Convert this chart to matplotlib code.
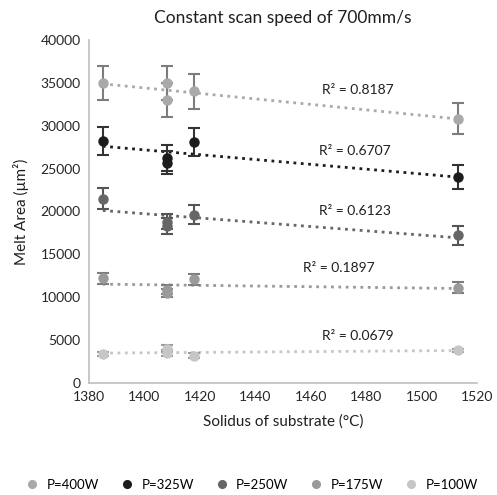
import matplotlib
matplotlib.use("Agg")
import matplotlib.pyplot as plt
import numpy as np

plt.rcParams['font.family'] = ['Lato', 'DejaVu Sans']

# data
labels = ["P=400W", "P=325W", "P=250W", "P=175W", "P=100W"]
colors = ["#a9a9a9", "#1c1c1c", "#666666", "#9a9a9a", "#c6c6c6"]
ecolors = ["#7d7d7d", "#333333", "#555555", "#7d7d7d", "#9a9a9a"]

x400 = [1385, 1408, 1408, 1418, 1513]
y400 = [35000, 35000, 33000, 34000, 30800]
e400 = [2000, 2000, 2000, 2000, 1800]

x325 = [1385, 1408, 1408, 1418, 1513]
y325 = [28200, 26200, 25700, 28100, 24000]
e325 = [1600, 1500, 1300, 1600, 1400]

x250 = [1385, 1408, 1408, 1418, 1513]
y250 = [21500, 18800, 18300, 19600, 17200]
e250 = [1200, 900, 900, 1100, 1100]

x175 = [1385, 1408, 1408, 1418, 1513]
y175 = [12200, 10900, 10500, 12100, 11100]
e175 = [650, 500, 500, 650, 650]

x100 = [1385, 1408, 1408, 1418, 1513]
y100 = [3400, 4000, 3500, 3200, 3800]
e100 = [250, 400, 400, 250, 200]

r2_labels = ["R² = 0.8187", "R² = 0.6707", "R² = 0.6123", "R² = 0.1897", "R² = 0.0679"]
r2_x = [1477, 1476, 1476, 1470, 1477]
r2_y = [34200, 27100, 20100, 13400, 5500]

xs = [x400, x325, x250, x175, x100]
ys = [y400, y325, y250, y175, y100]
es = [e400, e325, e250, e175, e100]

fig = plt.figure(figsize=(4.97, 4.95), dpi=100)
ax = fig.add_axes([0.179, 0.2263, 0.781, 0.693])

for x, y, e, lab, c, ec in zip(xs, ys, es, labels, colors, ecolors):
    ax.errorbar(x, y, yerr=e, fmt='o', color=c, ecolor=ec, markersize=6.5,
                capsize=4, elinewidth=1.5, capthick=1.5, label=lab, zorder=3)
    # linear trendline
    k, b = np.polyfit(x, y, 1)
    tx = np.array([min(x), max(x)])
    ax.plot(tx, k * tx + b, linestyle=':', linewidth=2, color=c, zorder=2)

for t, tx, ty in zip(r2_labels, r2_x, r2_y):
    ax.text(tx, ty, t, ha='center', va='center', fontsize=10, color='#1f1f1f')

ax.set_xlim(1380, 1520)
ax.set_ylim(0, 40000)
ax.set_xticks(range(1380, 1521, 20))
ax.set_yticks(range(0, 40001, 5000))
ax.tick_params(length=0, labelsize=10, labelcolor='#262626', pad=6)
for s in ['top', 'right']:
    ax.spines[s].set_visible(False)
for s in ['left', 'bottom']:
    ax.spines[s].set_color('#bfbfbf')
    ax.spines[s].set_linewidth(1.2)

ax.set_title("Constant scan speed of 700mm/s", fontsize=12.5, color='#1f1f1f', pad=12)
ax.set_xlabel("Solidus of substrate (°C)", fontsize=11, color='#1f1f1f', labelpad=8)
ax.set_ylabel("Melt Area (µm²)", fontsize=11, color='#1f1f1f', labelpad=8)

handles, labs = ax.get_legend_handles_labels()
handles = [h[0] for h in handles]
fig.legend(handles, labs, loc='center', bbox_to_anchor=(0.5, 0.02), ncol=5,
           frameon=False, fontsize=9.5, handletextpad=0.1, columnspacing=1.1,
           markerscale=0.85)

fig.savefig("out.png", dpi=100)
